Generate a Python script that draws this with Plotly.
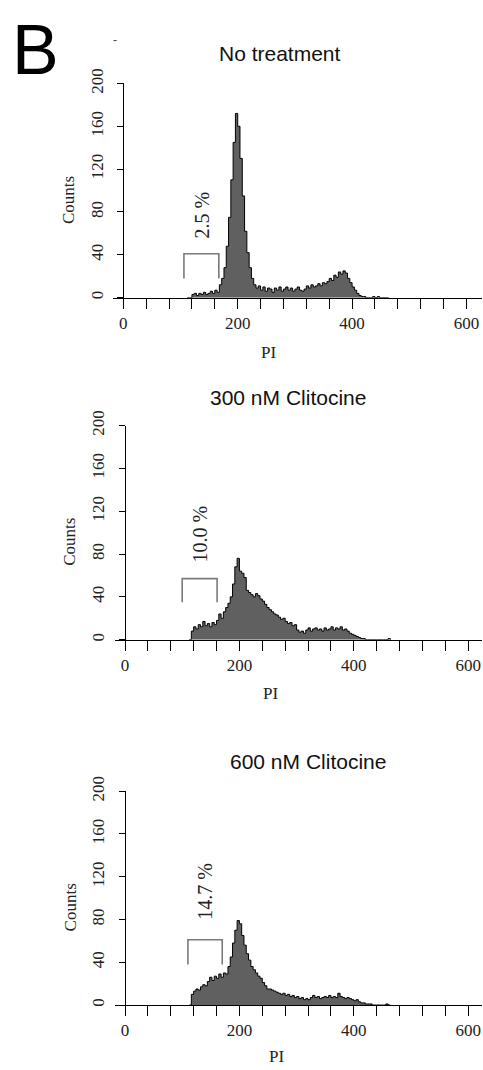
import plotly.graph_objects as go

W, H = 483, 1070

# ---- data ----
pi_bins = [112,116,120,124,128,132,136,140,144,148,152,156,160,164,168,172,176,180,184,188,
           192,196,200,204,208,212,216,220,224,228,232,236,240,244,248,252,256,260,264,268,
           272,276,280,284,288,292,296,300,304,308,312,316,320,324,328,332,336,340,344,348,
           352,356,360,364,368,372,376,380,384,388,392,396,400,404,408,412,416,420,424,428,
           432,436,440,444,448,452,456,460]
bin_width = 4

counts_none = [0,0,3,4,2,4,3,5,3,4,6,4,7,5,12,18,28,48,75,110,
               145,172,160,130,95,62,42,28,18,12,9,11,7,10,6,9,8,5,9,7,
               10,6,8,10,7,9,6,8,10,7,6,8,11,9,12,10,11,13,11,14,
               13,15,18,16,21,19,24,22,25,23,18,14,10,7,4,2,1,1,0,0,
               0,1,0,1,0,0,0,0]
counts_300 = [0,8,12,10,14,12,17,13,15,12,16,14,18,24,20,26,30,34,40,52,
              68,76,64,62,58,46,44,42,40,43,41,38,36,33,30,28,26,24,23,21,
              19,20,17,15,16,13,14,9,7,8,6,9,11,8,10,11,9,10,8,11,
              9,10,12,9,11,10,12,9,10,8,6,5,4,3,2,1,1,0,0,0,
              0,0,0,0,0,0,0,1]
counts_600 = [0,10,13,15,14,17,19,18,22,26,23,27,25,29,26,30,29,36,45,58,
              70,79,76,65,56,48,42,36,33,30,27,25,21,18,15,15,14,13,12,11,
              10,11,9,10,8,9,7,8,6,7,5,6,5,7,9,7,8,6,7,8,
              7,9,7,8,7,11,8,7,6,7,6,5,4,5,3,2,2,1,1,1,
              0,0,0,0,0,0,1,0]

titles = ["No treatment", "300 nM Clitocine", "600 nM Clitocine"]
series = [counts_none, counts_300, counts_600]
percent_labels = ["2.5 %", "10.0 %", "14.7 %"]
percent_x = [138, 131, 140]
percent_y = [77, 99, 106]
gate_lo = [106, 100, 110]
gate_hi = [167, 161, 170]
gate_bottom = [18, 35, 38]
gate_top = [41, 57, 61]

x_ticks = [0,40,80,120,160,200,240,280,320,360,400,440,480,520,560,600]
x_tick_labels = ["0","","","","","200","","","","","400","","","","","600"]
y_ticks = [0, 40, 80, 120, 160, 200]

# ---- layout geometry (target pixels in the photographed page) ----
def ypx(ref):
    # the photograph compresses the page vertically; map target pixel to layout pixel
    return ref / 0.985 - 15

zero_px = [123.3, 125.0, 125.0]      # x pixel of PI = 0
base_px = [297.7, 640.0, 1005.7]     # y pixel of count = 0
top_px = [83.3, 425.7, 791.7]        # y pixel of count = 200
px_per_unit = 0.572
right_px = 482.0
left_units = -18
title_pos = [(280, 53), (288, 398), (308, 762)]
counts_pos = [(68, 200), (70, 542), (70, 908)]
pi_pos = [(268, 352), (270, 693), (276, 1058)]

serif = "Liberation Serif, Times New Roman, serif"
sans = "Liberation Sans, Arial, sans-serif"

fig = go.Figure()
annotations = []
for i in range(3):
    sfx = "" if i == 0 else str(i + 1)
    xa, ya = "x" + sfx, "y" + sfx
    vals = series[i]
    xs = list(pi_bins) + [pi_bins[-1] + bin_width]
    ys = list(vals) + [0]
    fig.add_trace(go.Scatter(x=xs, y=ys, mode="lines", line_shape="hv",
                             line=dict(color="black", width=1),
                             fill="tozeroy", fillcolor="#606060",
                             xaxis=xa, yaxis=ya, showlegend=False, hoverinfo="skip"))
    fig.add_trace(go.Scatter(x=[gate_lo[i], gate_lo[i], gate_hi[i], gate_hi[i]],
                             y=[gate_bottom[i], gate_top[i], gate_top[i], gate_bottom[i]],
                             mode="lines", line=dict(color="#7a7a7a", width=1.6),
                             xaxis=xa, yaxis=ya, showlegend=False, hoverinfo="skip"))
    left_px = zero_px[i] + left_units * px_per_unit
    right_units = (right_px - zero_px[i]) / px_per_unit
    fig.layout["xaxis" + sfx] = dict(
        domain=[left_px / W, right_px / W], range=[left_units, right_units],
        anchor=ya, showline=True, linecolor="black", linewidth=1,
        showgrid=False, zeroline=False, ticks="outside", ticklen=10, tickwidth=1,
        tickcolor="black", tickvals=x_ticks, ticktext=x_tick_labels,
        tickfont=dict(family=serif, size=17, color="#222"), fixedrange=True)
    fig.layout["yaxis" + sfx] = dict(
        domain=[1 - ypx(base_px[i]) / H, 1 - ypx(top_px[i]) / H], range=[0, 200],
        anchor="free", position=zero_px[i] / W, showline=True, linecolor="black",
        linewidth=1, showgrid=False, zeroline=False, ticks="outside", ticklen=6,
        tickwidth=1, tickcolor="black", tickvals=y_ticks, tickangle=-90,
        ticklabelstandoff=8,
        tickfont=dict(family=serif, size=17, color="#222"), fixedrange=True)
    annotations.append(dict(x=percent_x[i], y=percent_y[i], xref=xa, yref=ya,
                            text=percent_labels[i], textangle=-90, showarrow=False,
                            font=dict(family=serif, size=20, color="#222")))
    tx, ty = title_pos[i]
    annotations.append(dict(x=tx / W, y=1 - ypx(ty) / H, xref="paper", yref="paper",
                            text=titles[i], showarrow=False, xanchor="center", yanchor="middle",
                            font=dict(family=sans, size=21, color="#111")))
    cx, cy = counts_pos[i]
    annotations.append(dict(x=cx / W, y=1 - ypx(cy) / H, xref="paper", yref="paper",
                            text="Counts", textangle=-90, showarrow=False,
                            xanchor="center", yanchor="middle",
                            font=dict(family=serif, size=17, color="#222")))
    px_, py_ = pi_pos[i]
    annotations.append(dict(x=px_ / W, y=1 - min(ypx(py_), 1058) / H, xref="paper", yref="paper",
                            text="PI", showarrow=False, xanchor="center", yanchor="middle",
                            height=20, valign="middle",
                            font=dict(family=serif, size=17, color="#222")))

annotations.append(dict(x=115 / W, y=1 - ypx(40) / H, xref="paper", yref="paper", text="-",
                        showarrow=False, xanchor="center", yanchor="middle",
                        font=dict(family=sans, size=12, color="#444")))

fig.update_layout(width=W, height=H, autosize=False,
                  margin=dict(l=0, r=0, t=0, b=0),
                  paper_bgcolor="white", plot_bgcolor="white",
                  title=dict(text="B", x=12 / W, xanchor="left", xref="paper",
                             y=1 - 35 / H, yanchor="middle", yref="paper",
                             font=dict(family=sans, size=70, color="black")),
                  annotations=annotations)
fig.write_html("out.html", config={"displayModeBar": False},
               post_script="document.body.style.margin='0';document.body.style.overflow='hidden';")
